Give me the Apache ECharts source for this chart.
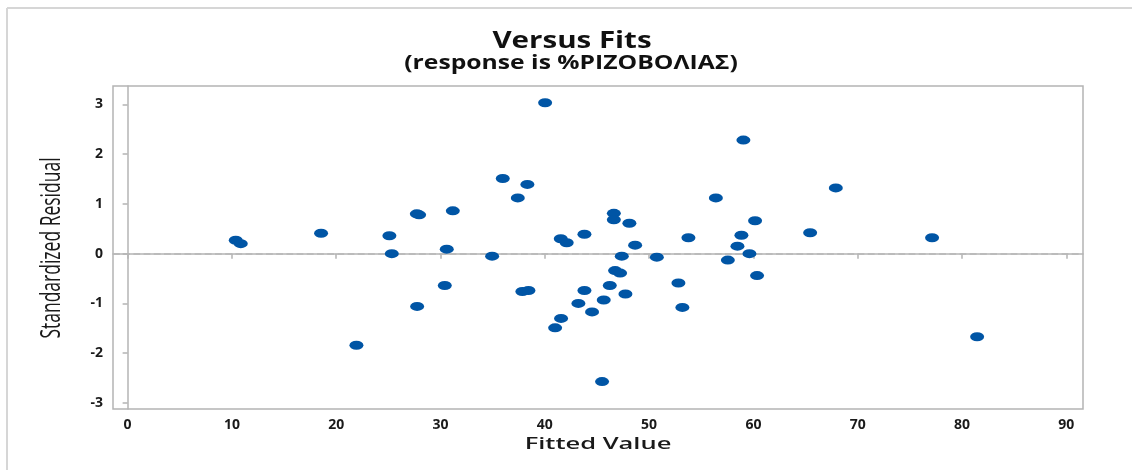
<!DOCTYPE html>
<html>
<head>
<meta charset="utf-8">
<script src="https://cdn.jsdelivr.net/npm/echarts@6/dist/echarts.min.js"></script>
<style>
  html, body { margin: 0; padding: 0; background: #fff; }
  #chart { width: 1132px; height: 470px; }
</style>
</head>
<body>
<div id="chart"></div>
<script>
// Fitted values and their standardized residuals
const fittedValues = [
  10.37, 10.85, 18.55, 25.10, 25.33, 27.73, 27.95, 31.18, 30.60, 34.95,
  30.41, 27.76, 21.94, 35.97, 40.03, 38.33, 37.41, 59.04, 56.40, 60.16,
  58.85, 58.47, 59.62, 57.55, 60.35, 53.77, 52.81, 53.19, 50.74, 48.66,
  48.11, 46.62, 46.62, 47.38, 46.74, 47.22, 47.73, 46.23, 45.65, 43.80,
  43.80, 43.22, 44.53, 41.53, 42.10, 41.56, 40.99, 45.49, 37.85, 38.43,
  67.90, 65.44, 77.13, 81.45
];
const standardizedResiduals = [
  0.27, 0.20, 0.41, 0.36, 0.00, 0.80, 0.78, 0.86, 0.09, -0.05,
  -0.64, -1.06, -1.84, 1.51, 3.03, 1.39, 1.12, 2.28, 1.12, 0.66,
  0.37, 0.15, 0.00, -0.13, -0.44, 0.32, -0.59, -1.08, -0.07, 0.17,
  0.61, 0.81, 0.68, -0.05, -0.34, -0.39, -0.81, -0.64, -0.93, 0.39,
  -0.74, -1.00, -1.17, 0.30, 0.22, -1.30, -1.49, -2.57, -0.76, -0.74,
  1.32, 0.42, 0.32, -1.67
];
const xTicks = [0, 10, 20, 30, 40, 50, 60, 70, 80, 90];
const yTicks = [-3, -2, -1, 0, 1, 2, 3];

const titleText = 'Versus Fits';
const subtitleText = '(response is %ΡΙΖΟΒΟΛΙΑΣ)';
const xName = 'Fitted Value';
const yName = 'Standardized Residual';

const points = fittedValues.map((x, i) => [x, standardizedResiduals[i]]);

const axisGray = '#b4b4b4';
const textDark = '#1a1a1a';

const chart = echarts.init(document.getElementById('chart'), null, { renderer: 'canvas' });
chart.setOption({
  backgroundColor: '#ffffff',
  animation: false,
  graphic: [
    // outer frame (left and top edges)
    { type: 'line', shape: { x1: 7, y1: 8, x2: 7, y2: 470 }, style: { stroke: '#d6d6d6', lineWidth: 2 } },
    { type: 'line', shape: { x1: 7, y1: 8, x2: 1132, y2: 8 }, style: { stroke: '#d6d6d6', lineWidth: 2 } },
    // titles, widened text
    {
      type: 'text', x: 572, y: 41, scaleX: 1.23,
      style: { text: titleText, font: 'bold 24px "Open Sans"', fill: '#111', align: 'center', verticalAlign: 'middle' }
    },
    {
      type: 'text', x: 571, y: 63.5, scaleX: 1.3,
      style: { text: subtitleText, font: 'bold 19px "Open Sans"', fill: '#111', align: 'center', verticalAlign: 'middle' }
    },
    // axis names
    {
      type: 'text', x: 598, y: 444, scaleX: 1.5,
      style: { text: xName, font: '600 17px "Open Sans"', fill: textDark, align: 'center', verticalAlign: 'middle' }
    },
    {
      type: 'text', x: 52, y: 248, rotation: Math.PI / 2, scaleY: 1.6,
      style: { text: yName, font: '17.5px "Open Sans"', fill: textDark, align: 'center', verticalAlign: 'middle' }
    }
  ],
  grid: {
    left: 113, top: 86, right: 49, bottom: 61,
    show: true, borderColor: axisGray, borderWidth: 1.5, backgroundColor: 'transparent'
  },
  xAxis: {
    type: 'value',
    min: -1.4, max: 91.6,
    axisLine: { show: true, lineStyle: { color: axisGray, width: 1.5 } },
    axisTick: { show: true, length: 5, lineStyle: { color: axisGray, width: 1.5 }, customValues: xTicks },
    axisLabel: { customValues: xTicks, margin: 9, fontFamily: 'Open Sans', fontWeight: 'bold', fontSize: 14, color: textDark },
    splitLine: { show: false }
  },
  yAxis: {
    type: 'value',
    min: -3.12, max: 3.367,
    axisLine: { show: true, lineStyle: { color: axisGray, width: 1.5 } },
    axisTick: { show: true, length: 5, lineStyle: { color: axisGray, width: 1.5 }, customValues: yTicks },
    axisLabel: { customValues: yTicks, margin: 10, fontFamily: 'Open Sans', fontWeight: 'bold', fontSize: 14, color: textDark },
    splitLine: { show: false }
  },
  series: [
    {
      type: 'scatter',
      data: points,
      symbol: 'circle',
      symbolSize: [14, 9],
      itemStyle: { color: '#0055a5', opacity: 1 },
      z: 3,
      markLine: {
        silent: true,
        symbol: ['none', 'none'],
        label: { show: false },
        lineStyle: { color: '#b8b8b8', type: 'dashed', width: 1.7 },
        data: [{ yAxis: 0 }],
        z: 1
      }
    }
  ]
});
</script>
</body>
</html>
